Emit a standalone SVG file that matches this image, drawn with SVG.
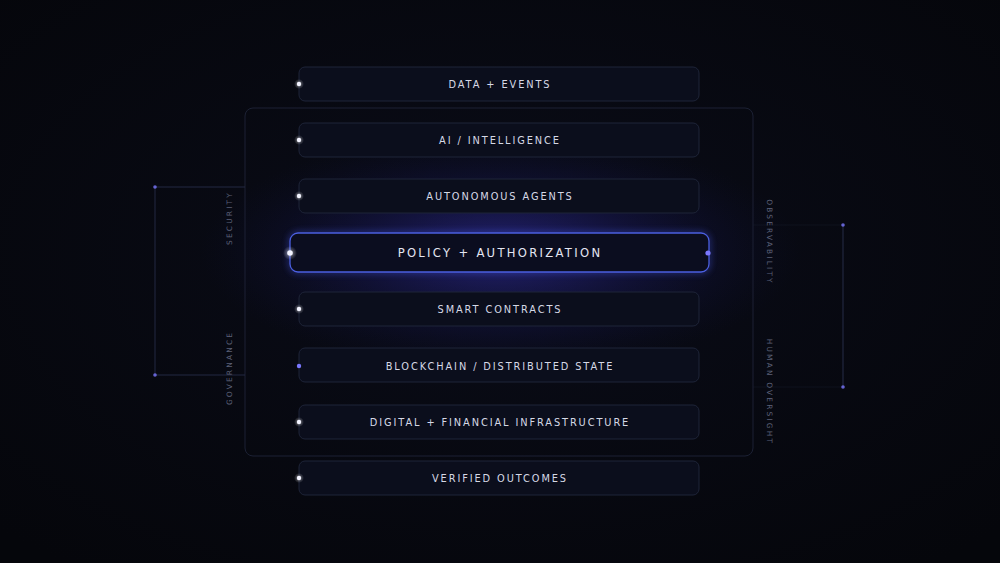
<svg xmlns="http://www.w3.org/2000/svg" width="1000" height="563" viewBox="0 0 1000 563">
<defs>
<radialGradient id="bg" cx="0.5" cy="0.45" r="0.7">
<stop offset="0" stop-color="#0a0c18"/>
<stop offset="1" stop-color="#05060b"/>
</radialGradient>
<radialGradient id="glow" cx="0.5" cy="0.5" r="0.5">
<stop offset="0" stop-color="#3b36c0" stop-opacity="0.55"/>
<stop offset="0.5" stop-color="#26238e" stop-opacity="0.25"/>
<stop offset="1" stop-color="#101450" stop-opacity="0"/>
</radialGradient>
<radialGradient id="dotglow" cx="0.5" cy="0.5" r="0.5">
<stop offset="0" stop-color="#ffffff" stop-opacity="0.5"/>
<stop offset="1" stop-color="#ffffff" stop-opacity="0"/>
</radialGradient>
<filter id="blur" x="-20%" y="-50%" width="140%" height="200%"><feGaussianBlur stdDeviation="3"/></filter>
</defs>
<style>
.bar{fill:#0b0e1c;stroke:#1e2438;stroke-width:1}
.lbl{font-family:"DejaVu Sans",sans-serif;font-size:9.8px;letter-spacing:1.9px;fill:#d6d9e6;text-anchor:middle;dominant-baseline:central}
.big{font-size:11.6px;letter-spacing:2.3px;fill:#e4e6f2}
.side{font-family:"DejaVu Sans",sans-serif;font-size:7.4px;letter-spacing:2.2px;fill:#5c6178;text-anchor:middle;dominant-baseline:central}
.dot{fill:#f2f3ff}
.pdot{fill:#7b78ff}
.line{stroke:#1c2134;stroke-width:1;fill:none}
.bline{stroke:#232943;stroke-width:1;fill:none}
</style>
<rect width="1000" height="563" fill="url(#bg)"/>
<ellipse cx="500" cy="252" rx="300" ry="120" fill="url(#glow)"/>

<g id="frame">
<rect x="245" y="108" width="508" height="348" rx="8" class="line"/>
</g>

<g id="connectors">
<path d="M245 187 H155 V375 H245" class="bline"/>
<path d="M753 225 H843 V387 H753" class="line" stroke-opacity="0.35"/>
<path d="M843 225 V387" class="bline"/>
<circle cx="155" cy="187" r="1.8" class="pdot" opacity="0.8"/>
<circle cx="155" cy="375" r="1.8" class="pdot" opacity="0.8"/>
<circle cx="843" cy="225" r="1.8" class="pdot" opacity="0.8"/>
<circle cx="843" cy="387" r="1.8" class="pdot" opacity="0.8"/>
</g>

<g id="side-labels">
<text class="side" transform="translate(229 218) rotate(-90)">SECURITY</text>
<text class="side" transform="translate(229 368) rotate(-90)">GOVERNANCE</text>
<text class="side" transform="translate(769 242) rotate(90)">OBSERVABILITY</text>
<text class="side" transform="translate(769 392) rotate(90)">HUMAN OVERSIGHT</text>
</g>

<g id="data-events">
<rect x="299" y="67" width="400" height="34" rx="6" class="bar"/>
<circle cx="299" cy="84" r="5" fill="url(#dotglow)"/><circle cx="299" cy="84" r="2.2" class="dot"/>
<text x="500" y="84" class="lbl">DATA + EVENTS</text>
</g>
<g id="ai-intelligence">
<rect x="299" y="123" width="400" height="34" rx="6" class="bar"/>
<circle cx="299" cy="140" r="5" fill="url(#dotglow)"/><circle cx="299" cy="140" r="2.2" class="dot"/>
<text x="500" y="140" class="lbl">AI / INTELLIGENCE</text>
</g>
<g id="autonomous-agents">
<rect x="299" y="179" width="400" height="34" rx="6" class="bar"/>
<circle cx="299" cy="196" r="5" fill="url(#dotglow)"/><circle cx="299" cy="196" r="2.2" class="dot"/>
<text x="500" y="196" class="lbl">AUTONOMOUS AGENTS</text>
</g>
<g id="policy">
<rect x="290" y="233" width="419" height="39" rx="8" fill="none" stroke="#4e63ff" stroke-width="3" opacity="0.5" filter="url(#blur)"/>
<rect x="290" y="233" width="419" height="39" rx="8" fill="#0b0d1f" stroke="#4b5fe0" stroke-width="1.3"/>
<circle cx="290" cy="253" r="7" fill="url(#dotglow)"/><circle cx="290" cy="253" r="2.8" class="dot"/>
<circle cx="708" cy="253" r="2.6" class="pdot"/>
<text x="500" y="253" class="lbl big">POLICY + AUTHORIZATION</text>
</g>
<g id="smart-contracts">
<rect x="299" y="292" width="400" height="34" rx="6" class="bar"/>
<circle cx="299" cy="309" r="5" fill="url(#dotglow)"/><circle cx="299" cy="309" r="2.2" class="dot"/>
<text x="500" y="309" class="lbl">SMART CONTRACTS</text>
</g>
<g id="blockchain">
<rect x="299" y="348" width="400" height="34" rx="6" class="bar"/>
<circle cx="299" cy="366" r="2.2" class="pdot"/>
<text x="500" y="366" class="lbl">BLOCKCHAIN / DISTRIBUTED STATE</text>
</g>
<g id="digital-financial">
<rect x="299" y="405" width="400" height="34" rx="6" class="bar"/>
<circle cx="299" cy="422" r="5" fill="url(#dotglow)"/><circle cx="299" cy="422" r="2.2" class="dot"/>
<text x="500" y="422" class="lbl">DIGITAL + FINANCIAL INFRASTRUCTURE</text>
</g>
<g id="verified-outcomes">
<rect x="299" y="461" width="400" height="34" rx="6" class="bar" stroke="#262c44"/>
<circle cx="299" cy="478" r="5" fill="url(#dotglow)"/><circle cx="299" cy="478" r="2.2" class="dot"/>
<text x="500" y="478" class="lbl">VERIFIED OUTCOMES</text>
</g>
</svg>
